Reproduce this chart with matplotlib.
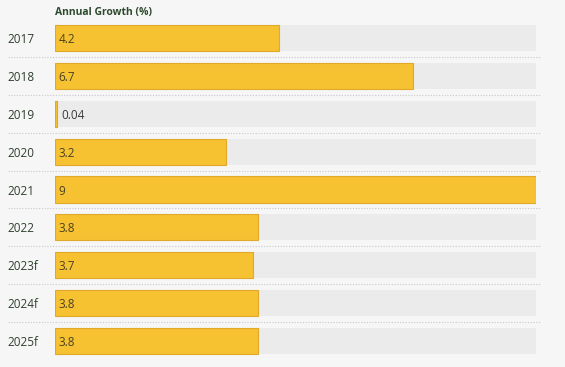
import matplotlib
matplotlib.use("Agg")
import matplotlib.pyplot as plt

years = ["2017", "2018", "2019", "2020", "2021", "2022", "2023f", "2024f", "2025f"]
growth = [4.2, 6.7, 0.04, 3.2, 9, 3.8, 3.7, 3.8, 3.8]
value_labels = ["4.2", "6.7", "0.04", "3.2", "9", "3.8", "3.7", "3.8", "3.8"]

plt.rcParams['font.family'] = ['Open Sans', 'DejaVu Sans']

fig = plt.figure(figsize=(5.65, 3.67), dpi=100, facecolor="#f6f6f6")
ax = fig.add_axes([55/565, 1-360/367, (536-55)/565, (360-19)/367])
ax.set_facecolor("none")

n = len(years)
pos = list(range(n))
xmax = max(growth)
ax.barh(pos, [xmax]*n, height=0.69, color="#ebebeb", zorder=1)
ax.barh(pos, growth, height=0.69, color="#f6c232", edgecolor="#e2a82a", linewidth=0.8, zorder=2)

for p, v, lab in zip(pos, growth, value_labels):
    ax.text(0.07 if v > 0.3 else 0.12, p, lab, va="center_baseline", ha="left", fontsize=8.5,
            color="#4a4220" if v > 0.3 else "#3a3a3a", zorder=3)

ax.set_xlim(0, xmax)
ax.set_ylim(n - 0.5, -0.5)
ax.set_yticks(pos)
ax.set_yticklabels(years, fontsize=8.5, color="#2f3f2f")
ax.tick_params(axis="y", length=0, pad=34)
for lab in ax.get_yticklabels():
    lab.set_horizontalalignment("left")
    lab.set_verticalalignment("center_baseline")
ax.set_xticks([])
for s in ax.spines.values():
    s.set_visible(False)

for k in range(n - 1):
    ax.plot([-47/481*xmax, 4/481*xmax + xmax], [k + 0.5, k + 0.5], ls=(0, (1, 1.5)),
            color="#c8c8c8", lw=0.8, clip_on=False, zorder=0)

fig.text(55/565, 1-12/367, "Annual Growth (%)", fontsize=7.5, fontweight="bold",
         color="#2e4a2e", va="center", ha="left")

fig.savefig("out.png", dpi=100, facecolor=fig.get_facecolor())
